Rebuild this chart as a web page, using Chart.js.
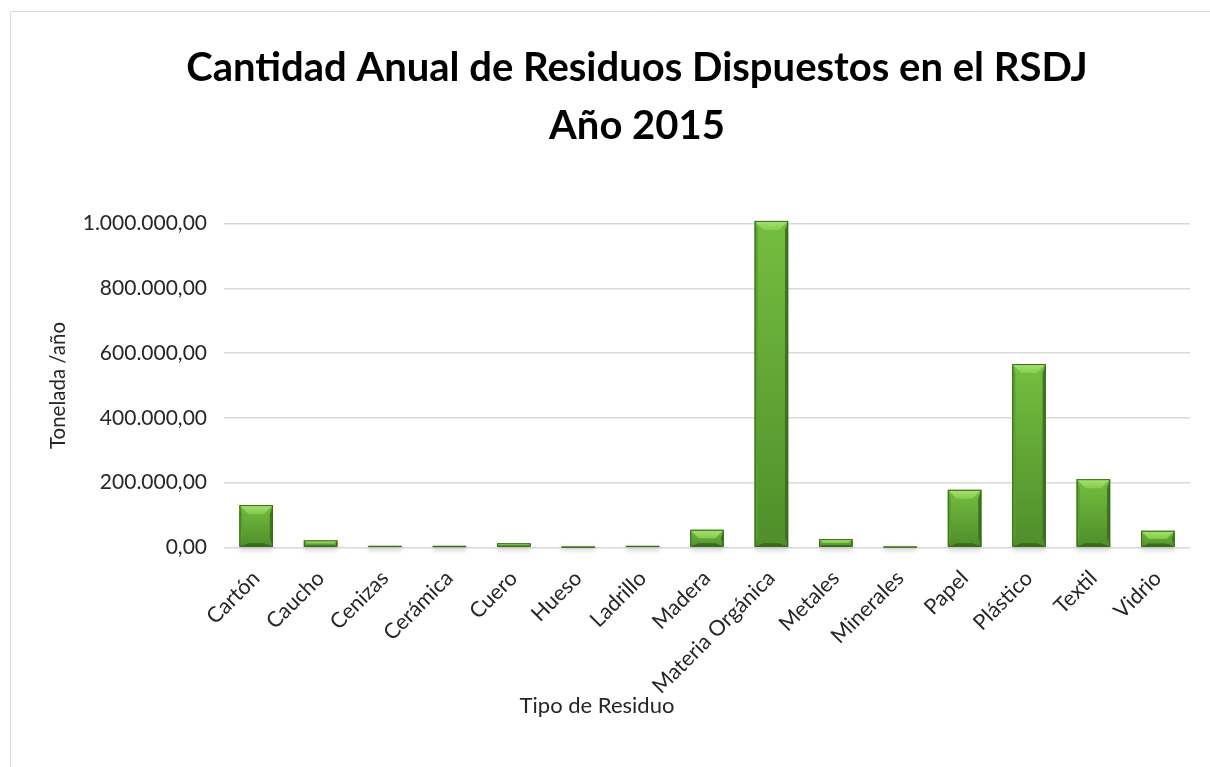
<!DOCTYPE html>
<html>
<head>
<meta charset="utf-8">
<script src="https://cdn.jsdelivr.net/npm/chart.js@4/dist/chart.umd.min.js"></script>
<style>
  html, body { margin: 0; padding: 0; background: #fff; overflow: hidden; }
  #wrap { position: absolute; left: 0; top: 0; width: 1300px; height: 767px; }
</style>
</head>
<body>
<div id="wrap"><canvas id="c"></canvas></div>
<script>
// Waste categories and annual tonnage (t/año), 2015
const categories = ['Cartón', 'Caucho', 'Cenizas', 'Cerámica', 'Cuero', 'Hueso', 'Ladrillo', 'Madera',
                    'Materia Orgánica', 'Metales', 'Minerales', 'Papel', 'Plástico', 'Textil', 'Vidrio'];
const tonnage = [131000, 22000, 4500, 4000, 13300, 300, 4500, 54600,
                 1008000, 25900, 400, 177900, 566300, 210900, 51500];
const titleLines = ['Cantidad Anual de Residuos Dispuestos en el RSDJ', 'Año 2015'];
const yAxisTitle = 'Tonelada /año';
const xAxisTitle = 'Tipo de Residuo';
const yMin = 0, yMax = 1000000, yStep = 200000;

const FONT = 'Lato';

// 1.000.000,00 style number format
function formatEs(v) {
  const s = Math.round(v).toString().replace(/\B(?=(\d{3})+(?!\d))/g, '.');
  return s + ',00';
}

// Thin frame along the left and top edges of the chart box
const frameLines = {
  id: 'frameLines',
  beforeDraw(chart) {
    const ctx = chart.ctx;
    ctx.save();
    ctx.strokeStyle = '#d9d9d9';
    ctx.lineWidth = 1;
    ctx.beginPath();
    ctx.moveTo(10.5, chart.height);
    ctx.lineTo(10.5, 11.5);
    ctx.lineTo(chart.width, 11.5);
    ctx.stroke();
    ctx.restore();
  }
};

// Centre the chart title over the whole chart object rather than the padded box
const titleCentre = {
  id: 'titleCentre',
  afterLayout(chart) {
    if (chart.titleBlock) chart.titleBlock.left = 84;
  }
};

// Category-axis caption, placed below the rotated labels
const xCaption = {
  id: 'xCaption',
  afterDraw(chart) {
    const ctx = chart.ctx;
    ctx.save();
    ctx.font = '22px ' + FONT;
    ctx.fillStyle = '#262626';
    ctx.textAlign = 'center';
    ctx.textBaseline = 'middle';
    ctx.fillText(xAxisTitle, 597, 706);
    ctx.restore();
  }
};

// Soft shadow under each bar, drawn before the bars
const barShadow = {
  id: 'barShadow',
  beforeDatasetsDraw(chart) {
    const ctx = chart.ctx;
    chart.getDatasetMeta(0).data.forEach(bar => {
      const { x, base, width } = bar.getProps(['x', 'base', 'width'], true);
      ctx.save();
      ctx.filter = 'blur(2px)';
      ctx.fillStyle = 'rgba(0,0,0,0.16)';
      ctx.fillRect(x - width / 2, base, width, 4);
      ctx.restore();
    });
  }
};

// Beveled look on top of each bar
const bevelBars = {
  id: 'bevelBars',
  afterDatasetsDraw(chart) {
    const ctx = chart.ctx;
    chart.getDatasetMeta(0).data.forEach(bar => {
      const { x, y, base, width } = bar.getProps(['x', 'y', 'base', 'width'], true);
      const l = x - width / 2, r = x + width / 2;
      const t = Math.min(y, base), b = Math.max(y, base);
      const h = b - t;
      if (h < 0.5) return;
      const bv = Math.min(9, h / 2);
      ctx.save();
      // face
      const g = ctx.createLinearGradient(0, t, 0, b);
      g.addColorStop(0, '#74BE40');
      g.addColorStop(1, '#4F8E2A');
      ctx.fillStyle = g;
      ctx.fillRect(l, t, width, h);
      // left side
      ctx.fillStyle = 'rgba(90,160,50,0.9)';
      ctx.beginPath();
      ctx.moveTo(l, t); ctx.lineTo(l + bv * 0.35, t + bv); ctx.lineTo(l + bv * 0.35, b - bv); ctx.lineTo(l, b);
      ctx.closePath(); ctx.fill();
      // right side
      ctx.fillStyle = 'rgba(60,110,30,0.9)';
      ctx.beginPath();
      ctx.moveTo(r, t); ctx.lineTo(r - bv * 0.35, t + bv); ctx.lineTo(r - bv * 0.35, b - bv); ctx.lineTo(r, b);
      ctx.closePath(); ctx.fill();
      // top bevel
      const gt = ctx.createLinearGradient(0, t, 0, t + bv);
      gt.addColorStop(0, '#A6E270');
      gt.addColorStop(1, '#84CC4E');
      ctx.fillStyle = gt;
      ctx.beginPath();
      ctx.moveTo(l, t); ctx.lineTo(r, t); ctx.lineTo(r - bv, t + bv); ctx.lineTo(l + bv, t + bv);
      ctx.closePath(); ctx.fill();
      // bottom bevel
      ctx.fillStyle = 'rgba(55,100,28,0.85)';
      ctx.beginPath();
      ctx.moveTo(l, b); ctx.lineTo(r, b); ctx.lineTo(r - bv, b - bv * 0.4); ctx.lineTo(l + bv, b - bv * 0.4);
      ctx.closePath(); ctx.fill();
      // outline
      ctx.strokeStyle = '#3B6B1E';
      ctx.lineWidth = 1;
      ctx.strokeRect(l + 0.5, t + 0.5, width - 1, h - 1);
      ctx.restore();
    });
  }
};

new Chart(document.getElementById('c'), {
  type: 'bar',
  data: {
    labels: categories,
    datasets: [{
      data: tonnage,
      backgroundColor: '#62A834',
      borderWidth: 0,
      barPercentage: 0.52,
      categoryPercentage: 1.0,
      clip: false
    }]
  },
  options: {
    responsive: true,
    maintainAspectRatio: false,
    animation: false,
    devicePixelRatio: 1,
    layout: { padding: { left: 0, right: 110, top: 0, bottom: 0 } },
    plugins: {
      legend: { display: false },
      tooltip: { enabled: false },
      title: {
        display: true,
        text: titleLines,
        color: '#000',
        font: { family: FONT, size: 40, weight: 'bold', lineHeight: 1.45 },
        padding: { top: 39, bottom: 68.5 }
      }
    },
    scales: {
      x: {
        grid: { display: false, drawTicks: false },
        border: { display: false },
        ticks: {
          color: '#262626',
          font: { family: FONT, size: 21.5 },
          minRotation: 45, maxRotation: 45,
          padding: 18,
          autoSkip: false
        },
        title: { display: false, text: xAxisTitle },
        afterFit(scale) { scale.height = 219.5; }
      },
      y: {
        min: yMin, max: yMax,
        grid: { color: '#d9d9d9', lineWidth: 1.5, drawTicks: false },
        border: { display: false },
        ticks: {
          stepSize: yStep,
          color: '#262626',
          font: { family: FONT, size: 21 },
          padding: 17,
          callback: v => formatEs(v)
        },
        title: {
          display: true,
          text: yAxisTitle,
          color: '#262626',
          font: { family: FONT, size: 20.5 },
          padding: { top: 46, bottom: 0 }
        },
        afterFit(scale) { scale.width = 224; }
      }
    }
  },
  plugins: [frameLines, titleCentre, xCaption, barShadow, bevelBars]
});
</script>
</body>
</html>
